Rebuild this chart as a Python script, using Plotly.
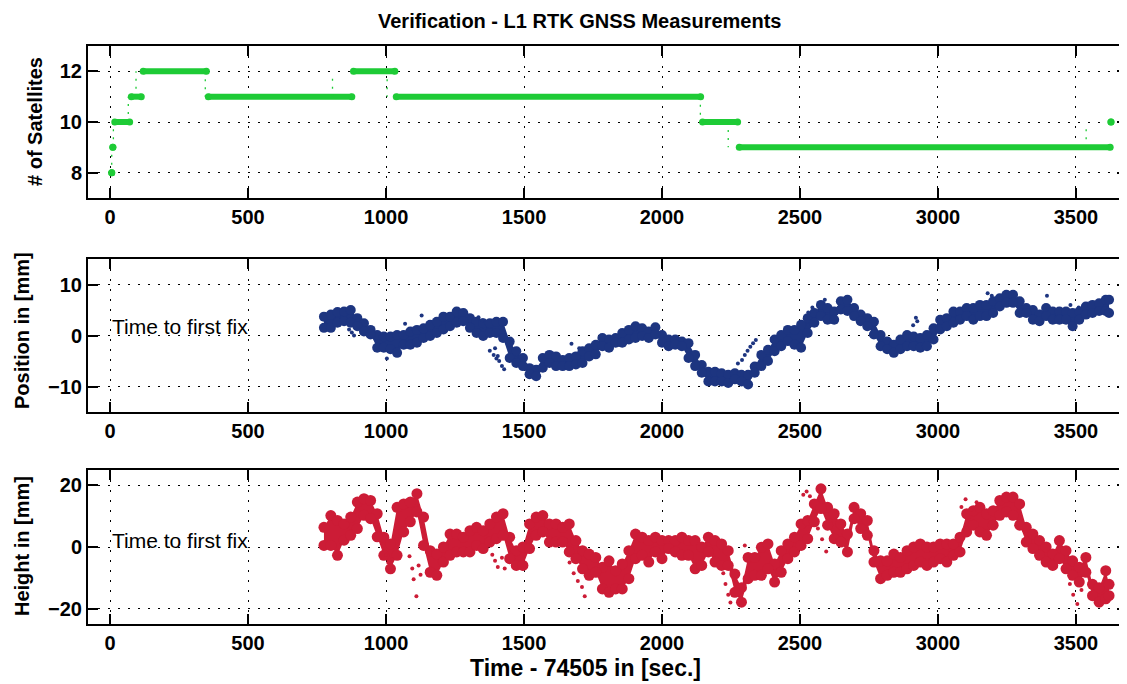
import plotly.graph_objects as go

# ---------------- data ----------------
# Satellites: constant-count segments (start time, end time, count)
sat_start = [6, 10, 17, 77, 120, 356, 882, 1037, 2147, 2280, 3627]
sat_end = [6, 10, 71, 113, 349, 876, 1032, 2140, 2274, 3624, 3627]
sat_val = [8, 9, 10, 11, 12, 11, 12, 11, 10, 9, 10]
# thin dotted transitions between counts
trans_t = [6, 12, 66, 94, 345, 806, 1004, 2139, 2240, 3537]
trans_from = [8, 9, 10, 11, 12, 11, 12, 11, 10, 9]
trans_to = [9, 10, 11, 12, 11, 11.9, 11, 10, 9, 9.8]

# sample times for position / height bands
t_band = [775, 800, 824, 848, 872, 896, 920, 944, 968, 992, 1016, 1040, 1064, 1088, 1112,
          1136, 1160, 1184, 1208, 1232, 1256, 1280, 1304, 1328, 1352, 1376, 1400, 1424,
          1448, 1472, 1496, 1520, 1544, 1568, 1592, 1616, 1640, 1664, 1688, 1712, 1736,
          1760, 1784, 1808, 1832, 1856, 1880, 1904, 1928, 1952, 1976, 2000, 2024, 2048,
          2072, 2096, 2120, 2144, 2168, 2192, 2216, 2240, 2264, 2288, 2312, 2336, 2360,
          2384, 2408, 2432, 2456, 2480, 2504, 2528, 2552, 2576, 2600, 2624, 2648, 2672,
          2696, 2720, 2744, 2768, 2792, 2816, 2840, 2864, 2888, 2912, 2936, 2960, 2984,
          3008, 3032, 3056, 3080, 3104, 3128, 3152, 3176, 3200, 3224, 3248, 3272, 3296,
          3320, 3344, 3368, 3392, 3416, 3440, 3464, 3488, 3512, 3536, 3560, 3584, 3608, 3620]

# horizontal position [mm]: upper / lower edge of the measurement band
pos_hi = [3.7, 4.1, 4.6, 4.7, 5.0, 3.4, 2.4, 1.1, 0.1, -0.2, -0.2, 0.1, 0.1, 0.8, 1.1,
          1.4, 2.1, 2.7, 3.7, 3.7, 4.7, 4.4, 3.4, 2.7, 2.4, 2.4, 2.7, 2.7,
          -1.2, -3.1, -4.4, -6.4, -6.7, -4.4, -3.8, -4.1, -4.8, -4.4, -4.1, -3.1, -2.5,
          -1.8, -0.5, -0.8, -0.5, 0.5, 1.1, 1.8, 1.4, 0.8, 1.6, 0.1, -0.8, -0.8,
          -1.2, -1.5, -3.8, -5.8, -7.1, -7.1, -7.4, -7.7, -7.4, -7.7, -7.7, -6.1, -3.8,
          -2.8, -0.8, 0.1, 1.1, 1.1, 2.1, 3.4, 4.4, 6.0, 5.4, 4.7, 6.7, 7.0,
          5.4, 4.1, 3.4, 2.7, 0.1, -1.2, -1.8, -0.8, 0.1, -0.2, -0.5, 0.1, 1.4,
          3.1, 3.4, 4.7, 4.7, 5.4, 5.4, 6.0, 6.0, 6.7, 7.3, 8.0, 8.0, 6.7,
          5.4, 5.0, 4.1, 5.4, 4.7, 4.7, 4.7, 4.4, 4.7, 5.7, 6.0, 6.3, 7.0, 7.0]
pos_lo = [1.5, 1.5, 2.5, 2.8, 2.5, 1.8, 0.8, 0.2, -2.4, -2.4, -2.7, -3.4, -1.8, -1.8, -1.4,
          -0.5, -0.1, 0.5, 1.2, 1.8, 2.5, 2.8, 1.5, 0.5, -0.1, 0.5, 0.5, -0.5,
          -4.4, -5.4, -6.0, -7.6, -8.0, -6.3, -5.4, -6.0, -6.0, -6.0, -5.7, -5.4, -4.1,
          -3.7, -2.1, -2.4, -1.4, -1.4, -0.8, -0.5, -0.1, -0.5, 0.2, -1.4, -2.1, -1.8,
          -2.1, -4.4, -6.0, -7.3, -9.0, -9.0, -9.0, -9.3, -8.6, -9.0, -9.6, -7.3, -6.0,
          -5.0, -3.1, -2.1, -1.1, -1.8, -2.4, 0.5, 2.5, 3.8, 3.1, 3.1, 5.1, 4.8,
          3.8, 2.8, 1.8, 0.2, -2.1, -2.7, -3.4, -2.7, -2.1, -2.1, -2.4, -2.1, -0.8,
          1.2, 1.8, 2.5, 3.1, 3.8, 3.1, 3.8, 3.8, 4.4, 5.7, 6.4, 6.4, 4.4,
          4.4, 3.1, 2.8, 3.8, 3.1, 3.1, 3.1, 1.8, 3.1, 4.1, 4.4, 4.8, 4.8, 4.4]
# scattered single position readings
pos_out_t = [866, 876, 884, 1003, 1069, 1129, 1335, 1350, 1376, 1390, 1395, 1400, 1405, 1410,
             1420, 1428, 1672, 1700, 2275, 2290, 2300, 2310, 2320, 2330, 2340, 2520, 2530,
             2545, 2590, 2910, 2920, 2925, 3180, 3195, 3395, 3480, 3510]
pos_out_v = [1.2, 0.6, 0.0, -4.5, 2.3, 3.9, 3.6, 3.0, -3.0, -3.8, -2.5, -4.5, -4.0, -5.0,
             -6.0, -6.6, -1.6, -2.5, -5.5, -4.8, -3.8, -3.0, -2.2, -1.5, -0.9, 3.5, 4.5,
             5.5, 7.0, 2.0, 3.5, 2.8, 8.3, 7.8, 7.8, 6.0, 5.5]

# height [mm]: upper / lower edge of the measurement band
hgt_hi = [6.4, 10.2, 8.6, 7.5, 9.7, 14.6, 15.7, 15.1, 10.8, 3.2, 1.0, 12.9, 14.0, 14.6, 17.3,
          9.7, -1.2, -2.3, 0.0, 4.2, 4.2, 3.2, 5.3, 6.4, 5.3, 7.5, 9.7, 10.8,
          3.2, -1.2, 0.0, 7.5, 9.7, 10.2, 7.5, 7.5, 6.4, 7.5, 2.1, -1.2, -2.3,
          -3.4, -6.6, -4.5, -7.7, -5.5, -1.2, 4.2, 3.2, 2.1, 3.2, 2.1, 2.1, 2.1,
          3.2, 2.1, 2.1, 0.0, 3.2, 2.1, 1.0, -1.2, -8.8, -13.2, -3.4, -3.4, -0.1,
          1.0, -5.5, -1.2, 1.0, 3.2, 7.5, 8.6, 14.0, 18.9, 12.9, 10.8, 7.5, 4.2,
          12.9, 10.8, 8.6, -1.2, -4.5, -4.5, -2.3, -3.4, -1.2, 0.0, 1.0, 0.0, 0.0,
          1.0, 1.0, 1.0, 3.2, 10.8, 11.8, 12.9, 10.8, 11.8, 15.1, 16.2, 16.2, 14.0,
          6.4, 4.2, 2.1, 0.0, -2.3, 2.1, -1.2, -4.5, -6.6, -3.4, -12.1, -13.2, -7.7, -12.1]
hgt_lo = [0.5, 0.5, -2.7, 2.2, 3.8, 6.0, 10.3, 9.2, 3.3, -2.7, -7.1, -2.7, 4.9, 8.2, 11.4,
          0.5, -8.2, -9.2, -4.9, -2.7, -1.6, -1.6, -1.6, 0.5, -0.5, 1.6, 2.7, 3.8,
          -3.8, -6.0, -6.0, -0.5, 3.8, 4.9, 1.6, 1.6, 1.6, -1.6, -3.8, -7.1, -9.2,
          -8.2, -13.6, -14.7, -13.6, -13.6, -10.3, -3.8, -2.7, -4.9, -1.6, -3.8, -0.5, -1.6,
          -2.7, -2.7, -7.1, -6.0, -1.6, -4.9, -6.0, -6.0, -14.7, -17.9, -10.3, -9.2, -9.2,
          -7.1, -11.4, -8.2, -3.8, -1.6, 0.5, 2.7, 8.2, 12.5, 7.1, 2.7, 1.6, -1.6,
          9.2, 6.0, 3.8, -4.9, -10.3, -9.2, -8.2, -8.2, -7.1, -6.0, -4.9, -6.0, -4.9,
          -3.8, -4.9, -2.7, -1.6, 4.9, 7.1, 4.9, 3.8, 7.1, 10.3, 11.4, 10.3, 7.1,
          1.6, -0.5, -2.7, -4.9, -6.0, -3.8, -7.1, -9.2, -11.4, -8.2, -15.8, -17.9, -16.8, -15.8]
# scattered single height readings
hgt_out_t = [1000, 1008, 1015, 1022, 1085, 1095, 1100, 1110, 1118, 1125, 1385, 1395, 1405,
             1420, 1430, 1665, 1680, 1695, 1710, 1720, 2222, 2230, 2240, 2248, 2300, 2306,
             2512, 2524, 2536, 2565, 2580, 2595, 2610, 3085, 3100, 3120, 3140, 3478, 3490,
             3505, 3520]
hgt_out_v = [-2.5, -5.0, -7.5, -4.0, -3.0, -7.0, -10.5, -16.0, -6.0, -9.0, -2.5, -4.5, -6.5,
             -3.5, -7.0, -5.0, -8.5, -11.0, -13.0, -16.0, -8.5, -12.0, -15.5, -18.0, 0.5, -3.0,
             17.0, 18.0, 16.5, 6.0, 2.5, -1.5, 8.5, 13.0, 15.5, 12.0, 14.5, -12.0, -15.5,
             -18.5, -14.0]

x_ticks = [0, 500, 1000, 1500, 2000, 2500, 3000, 3500]

# ---------------- style ----------------
GREEN = "#1ecb36"
BLUE = "#1d3580"
RED = "#cc1c36"
FONT = "Liberation Sans"

# page has an 8px body margin: figure is sized so that it fills the window
OFF = 8
W = 1127 - OFF
H = 684 - OFF
ML = 88 - OFF
PW = W - ML


def px_x(px):
    return (px - OFF - ML) / PW


def px_y(py):
    return 1 - (py - OFF) / H


fig = go.Figure()

# satellites: thick segments
sx, sy = [], []
for s, e, v in zip(sat_start, sat_end, sat_val):
    sx += [s, e, None]
    sy += [v, v, None]
fig.add_trace(go.Scatter(x=sx, y=sy, mode="lines+markers", xaxis="x", yaxis="y",
                         line=dict(color=GREEN, width=6), marker=dict(color=GREEN, size=7),
                         showlegend=False, hoverinfo="skip"))
tx, ty = [], []
for t, a, b in zip(trans_t, trans_from, trans_to):
    tx += [t, t, None]
    ty += [a, b, None]
fig.add_trace(go.Scatter(x=tx, y=ty, mode="lines", xaxis="x", yaxis="y",
                         line=dict(color=GREEN, width=1.3, dash="2px,6px"),
                         showlegend=False, hoverinfo="skip"))


def band(tt, lo, hi, outt, outv, color, ax, ay, size):
    fig.add_trace(go.Scatter(x=tt, y=lo, mode="lines", xaxis=ax, yaxis=ay,
                             line=dict(color=color, width=0), showlegend=False, hoverinfo="skip"))
    fig.add_trace(go.Scatter(x=tt, y=hi, mode="lines", xaxis=ax, yaxis=ay, fill="tonexty",
                             fillcolor=color, line=dict(color=color, width=0),
                             showlegend=False, hoverinfo="skip"))
    fig.add_trace(go.Scatter(x=tt + tt, y=hi + lo, mode="markers", xaxis=ax, yaxis=ay,
                             marker=dict(color=color, size=size), showlegend=False, hoverinfo="skip"))
    fig.add_trace(go.Scatter(x=outt, y=outv, mode="markers", xaxis=ax, yaxis=ay,
                             marker=dict(color=color, size=4), showlegend=False, hoverinfo="skip"))


band(t_band, pos_lo, pos_hi, pos_out_t, pos_out_v, BLUE, "x2", "y2", 10)
band(t_band, hgt_lo, hgt_hi, hgt_out_t, hgt_out_v, RED, "x3", "y3", 11)

tickfont = dict(family=FONT, size=20, color="black", weight="bold")
common_x = dict(range=[-80, 3685], tickvals=x_ticks, ticks="inside", ticklen=10, tickwidth=1.5,
                tickcolor="black", showline=True, linewidth=2, linecolor="black", mirror="allticks",
                showgrid=True, gridcolor="black", gridwidth=1.3, griddash="2px,8px",
                zeroline=False, tickfont=tickfont, domain=[0, 1], automargin=False)
common_y = dict(ticks="inside", ticklen=10, tickwidth=1.5, tickcolor="black", showline=True,
                linewidth=2, linecolor="black", mirror="allticks", showgrid=True,
                gridcolor="black", gridwidth=1.3, griddash="2px,8px", zeroline=False,
                tickfont=tickfont, automargin=False)

fig.update_layout(
    width=W, height=H,
    margin=dict(l=ML, r=0, t=0, b=0, autoexpand=False),
    paper_bgcolor="white", plot_bgcolor="white",
    font=dict(family=FONT, color="black"),
    xaxis=dict(common_x, anchor="y"),
    xaxis2=dict(common_x, anchor="y2"),
    xaxis3=dict(common_x, anchor="y3"),
    yaxis=dict(common_y, range=[7, 13], tickvals=[8, 10, 12], anchor="x",
               domain=[px_y(198), px_y(46)]),
    yaxis2=dict(common_y, range=[-15, 15], tickvals=[-10, 0, 10], anchor="x2",
                domain=[px_y(412), px_y(259)]),
    yaxis3=dict(common_y, range=[-25, 25], tickvals=[-20, 0, 20], anchor="x3",
                domain=[px_y(624), px_y(470)]),
)


def pann(text, px, py, size, bold=True, angle=0):
    return dict(text=text, x=px_x(px), y=px_y(py), xref="paper", yref="paper",
                xanchor="center", yanchor="middle", textangle=angle, showarrow=False,
                font=dict(family=FONT, size=size, color="black",
                          weight="bold" if bold else "normal"))


ann = [
    pann("Verification - L1 RTK GNSS Measurements", 579, 21, 20, True),
    pann("# of Satellites", 35, 122, 20, True, -90),
    pann("Position in [mm]", 22, 331, 20, True, -90),
    pann("Height in [mm]", 22, 546, 20, True, -90),
    pann("Time - 74505 in [sec.]", 585, 668, 23, True),
]
# "Time to first fix" labels in data coordinates
ann.append(dict(text="Time to first fix", x=0, y=1.8, xref="x2", yref="y2", xanchor="left",
                yanchor="middle", showarrow=False, font=dict(family=FONT, size=21, color="black")))
ann.append(dict(text="Time to first fix", x=0, y=2.0, xref="x3", yref="y3", xanchor="left",
                yanchor="middle", showarrow=False, font=dict(family=FONT, size=21, color="black")))
fig.update_layout(annotations=ann)

fig.write_html("out.html")
